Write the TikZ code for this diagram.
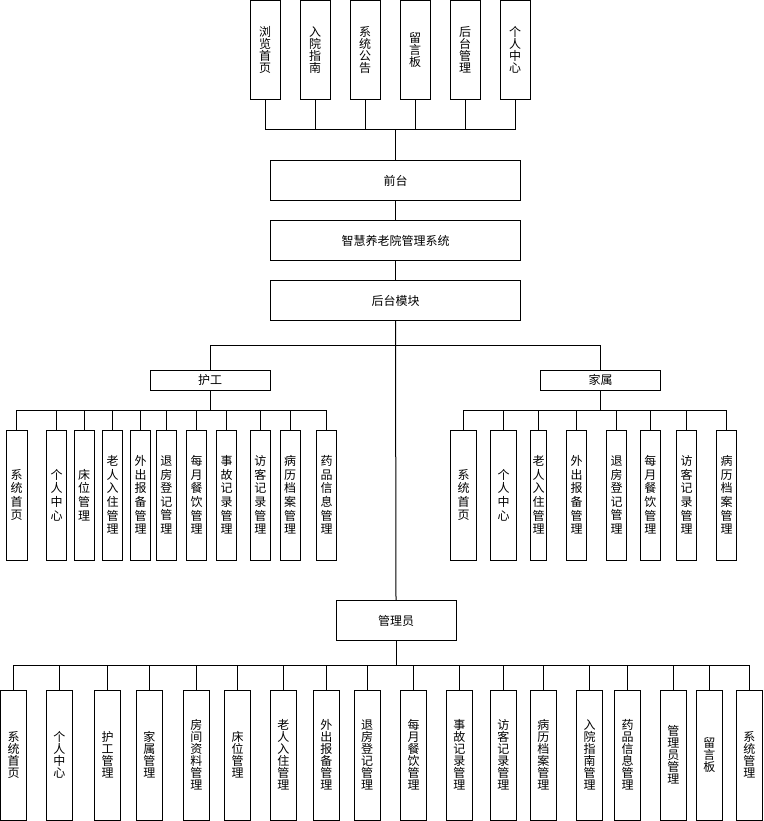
\documentclass[tikz,border=0pt]{standalone}
\usepackage{fontspec}
\newfontfamily\cjk{Noto Sans CJK SC}
\begin{document}
\begin{tikzpicture}[x=1pt,y=-1pt,
  box/.style={draw,line width=1pt,inner sep=0pt,font=\cjk\fontsize{12}{12}\selectfont,align=center},
  topbox/.style={box,minimum width=30pt,minimum height=99.5pt},
  midbox/.style={box,minimum width=250pt,minimum height=40pt},
  grpbox/.style={box,minimum width=120pt,minimum height=20pt},
  hbox/.style={box,font=\cjk\fontsize{12}{13.6}\selectfont,minimum height=130pt},
  bbox/.style={box,minimum width=26pt,minimum height=130pt},
  conn/.style={line width=1pt}]
\useasboundingbox (0,0) rectangle (763,821);
% top row
\node[topbox] (t1) at (265,50.25) {浏\\览\\首\\页};
\node[topbox] (t2) at (315,50.25) {入\\院\\指\\南};
\node[topbox] (t3) at (365,50.25) {系\\统\\公\\告};
\node[topbox] (t4) at (415,50.25) {留\\言\\板};
\node[topbox] (t5) at (465,50.25) {后\\台\\管\\理};
\node[topbox] (t6) at (515,50.25) {个\\人\\中\\心};
\coordinate (fbus) at (395.5,130);
% centre column
\node[midbox] (qt) at (395.5,180.5) {前台};
\node[midbox] (zh) at (395.5,240.5) {智慧养老院管理系统};
\node[midbox] (ht) at (395.5,300.5) {后台模块};
\coordinate (bbus) at (395.5,345);
% groups
\node[grpbox] (hg) at (210,380) {护工};
\node[grpbox] (js) at (600.5,380) {家属};
\coordinate (hbus) at (210,410);
\coordinate (jbus) at (600.5,410);
% nurse children
\node[hbox,minimum width=21pt] (h1) at (16.5,495) {系\\统\\首\\页};
\node[hbox,minimum width=20pt] (h2) at (56.7,495) {个\\人\\中\\心};
\node[hbox,minimum width=20pt] (h3) at (84,495) {床\\位\\管\\理};
\node[hbox,minimum width=20pt] (h4) at (112.7,495) {老\\人\\入\\住\\管\\理};
\node[hbox,minimum width=20pt] (h5) at (140.7,495) {外\\出\\报\\备\\管\\理};
\node[hbox,minimum width=20pt] (h6) at (166.3,495) {退\\房\\登\\记\\管\\理};
\node[hbox,minimum width=20pt] (h7) at (196.7,495) {每\\月\\餐\\饮\\管\\理};
\node[hbox,minimum width=20pt] (h8) at (226.7,495) {事\\故\\记\\录\\管\\理};
\node[hbox,minimum width=20pt] (h9) at (260.3,495) {访\\客\\记\\录\\管\\理};
\node[hbox,minimum width=20pt] (h10) at (290,495) {病\\历\\档\\案\\管\\理};
\node[hbox,minimum width=20pt] (h11) at (326.7,495) {药\\品\\信\\息\\管\\理};
% family children
\node[hbox,minimum width=26pt] (j1) at (463.7,495) {系\\统\\首\\页};
\node[hbox,minimum width=26pt] (j2) at (503.7,495) {个\\人\\中\\心};
\node[hbox,minimum width=16pt] (j3) at (538.7,495) {老\\人\\入\\住\\管\\理};
\node[hbox,minimum width=20pt] (j4) at (576.7,495) {外\\出\\报\\备\\管\\理};
\node[hbox,minimum width=20pt] (j5) at (616.7,495) {退\\房\\登\\记\\管\\理};
\node[hbox,minimum width=19.5pt] (j6) at (650.3,495) {每\\月\\餐\\饮\\管\\理};
\node[hbox,minimum width=20pt] (j7) at (686.7,495) {访\\客\\记\\录\\管\\理};
\node[hbox,minimum width=20pt] (j8) at (726.7,495) {病\\历\\档\\案\\管\\理};
% admin
\node[grpbox,minimum height=40pt] (gly) at (396,620.5) {管理员};
\coordinate (gbus) at (396,665);
% admin children
\node[bbox] (g1) at (13.6,755) {系\\统\\首\\页};
\node[bbox] (g2) at (59.3,755) {个\\人\\中\\心};
\node[bbox] (g3) at (107.5,755) {护\\工\\管\\理};
\node[bbox] (g4) at (149.3,755) {家\\属\\管\\理};
\node[bbox] (g5) at (196.3,755) {房\\间\\资\\料\\管\\理};
\node[bbox] (g6) at (237.5,755) {床\\位\\管\\理};
\node[bbox] (g7) at (283.3,755) {老\\人\\入\\住\\管\\理};
\node[bbox] (g8) at (326.3,755) {外\\出\\报\\备\\管\\理};
\node[bbox] (g9) at (367,755) {退\\房\\登\\记\\管\\理};
\node[bbox] (g10) at (413.7,755) {每\\月\\餐\\饮\\管\\理};
\node[bbox] (g11) at (459.3,755) {事\\故\\记\\录\\管\\理};
\node[bbox] (g12) at (503.3,755) {访\\客\\记\\录\\管\\理};
\node[bbox] (g13) at (543.3,755) {病\\历\\档\\案\\管\\理};
\node[bbox] (g14) at (589.7,755) {入\\院\\指\\南\\管\\理};
\node[bbox] (g15) at (627.7,755) {药\\品\\信\\息\\管\\理};
\node[bbox] (g16) at (673.3,755) {管\\理\\员\\管\\理};
\node[bbox] (g17) at (709.3,755) {留\\言\\板};
\node[bbox] (g18) at (749.3,755) {系\\统\\管\\理};
% connectors
\foreach \n in {t1,t2,t3,t4,t5,t6} \draw[conn] (\n.south) |- (fbus);
\draw[conn] (fbus) -- (qt.north);
\draw[conn] (qt.south) -- (zh.north);
\draw[conn] (zh.south) -- (ht.north);
\draw[conn] (ht.south) -- (gly.north);
\draw[conn] (bbus) -| (hg.north);
\draw[conn] (bbus) -| (js.north);
\draw[conn] (hg.south) -- (hbus);
\draw[conn] (js.south) -- (jbus);
\foreach \n in {h1,h2,h3,h4,h5,h6,h7,h8,h9,h10,h11} \draw[conn] (hbus) -| (\n.north);
\foreach \n in {j1,j2,j3,j4,j5,j6,j7,j8} \draw[conn] (jbus) -| (\n.north);
\draw[conn] (gly.south) -- (gbus);
\foreach \n in {g1,g2,g3,g4,g5,g6,g7,g8,g9,g10,g11,g12,g13,g14,g15,g16,g17,g18} \draw[conn] (gbus) -| (\n.north);
\end{tikzpicture}
\end{document}
